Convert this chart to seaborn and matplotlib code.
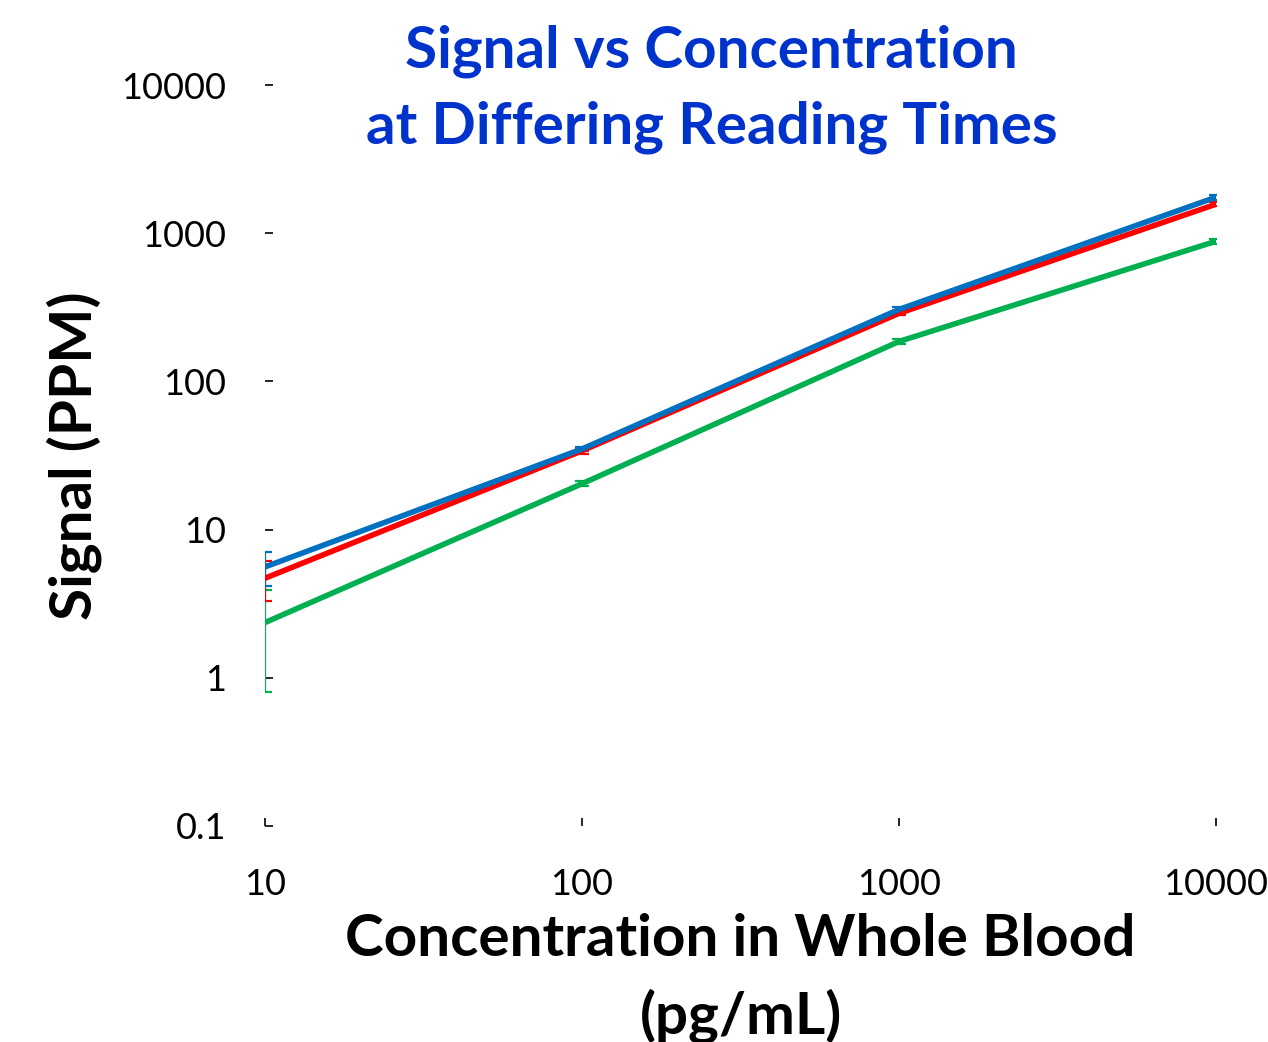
import numpy as np
import pandas as pd
import matplotlib
matplotlib.use("Agg")
import matplotlib.pyplot as plt
import seaborn as sns

# data
concentration = [10, 100, 1000, 10000]
series_names = ["Time 1", "Time 2", "Time 3"]
signal_blue = [5.6, 35, 306, 1750]
signal_red = [4.7, 34, 288, 1570]
signal_green = [2.36, 20.4, 186, 883]
err_blue = [1.45, 1.2, 10, 70]
err_red = [1.4, 1.5, 9, 50]
err_green = [1.56, 0.8, 8, 35]
colors = ["#0070C0", "#FF0000", "#00B050"]

df = pd.DataFrame({
    "conc": concentration * 3,
    "signal": signal_blue + signal_red + signal_green,
    "err": err_blue + err_red + err_green,
    "series": np.repeat(series_names, len(concentration)),
})

sns.set_theme(style="white")
plt.rcParams["font.family"] = ["Lato", "DejaVu Sans"]

fig = plt.figure(figsize=(12.68, 10.42), dpi=100)
ax = fig.add_axes([0.209, 0.2073, 0.750, 0.7111])

# draw in order green, red, blue so blue sits on top
order = [2, 1, 0]
for i in order:
    sub = df[df["series"] == series_names[i]]
    ax.errorbar(sub["conc"], sub["signal"], yerr=sub["err"], fmt="none",
                ecolor=colors[i], elinewidth=1.6, capsize=5, capthick=1.6, zorder=2)
sns.lineplot(data=df, x="conc", y="signal", hue="series", hue_order=[series_names[i] for i in order],
             palette=[colors[i] for i in order], linewidth=4, legend=False, ax=ax, zorder=3)

ax.set_xscale("log")
ax.set_yscale("log")
ax.set_xlim(10, 10000)
ax.set_ylim(0.1, 10000)
ax.set_xticks([10, 100, 1000, 10000])
ax.set_xticklabels(["10", "100", "1000", "10000"])
ax.set_yticks([0.1, 1, 10, 100, 1000, 10000])
ax.set_yticklabels(["0.1", "1", "10", "100", "1000", "10000"])
ax.minorticks_off()
for s in ax.spines.values():
    s.set_visible(False)
ax.tick_params(axis="both", which="major", direction="in", length=6, width=1.2,
               color="black", labelsize=26, labelcolor="black")
ax.tick_params(axis="y", pad=28, left=True)
ax.tick_params(axis="x", pad=30, bottom=True)

ax.set_xlabel("Concentration in Whole Blood\n(pg/mL)", fontsize=42, fontweight="bold",
              color="black", labelpad=9, linespacing=1.5)
ax.set_ylabel("Signal (PPM)", fontsize=42, fontweight="bold", color="black", labelpad=14)
fig.text(0.561, 0.914, "Signal vs Concentration\nat Differing Reading Times", ha="center", va="center",
         fontsize=42, fontweight="bold", color="#0033CC", linespacing=1.52)

fig.savefig("out.png", dpi=100)
